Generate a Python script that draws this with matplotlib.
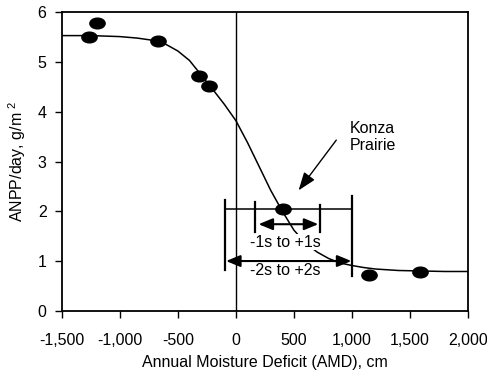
import numpy as np
import matplotlib
matplotlib.use("Agg")
import matplotlib.pyplot as plt
from matplotlib.path import Path
from matplotlib.transforms import Affine2D

plt.rcParams['font.family'] = ['Liberation Sans', 'DejaVu Sans']
plt.rcParams['mathtext.default'] = 'regular'

# Observed points
amd_points = [-1265, -1196, -670, -322, -228, 408, 1149, 1589]
anpp_points = [5.50, 5.79, 5.42, 4.71, 4.52, 2.05, 0.72, 0.78]

# Fitted curve
curve_x = [-1500, -1250, -1000, -850, -700, -600, -500, -400, -300, -200, -100, 0,
           100, 200, 300, 400, 500, 600, 700, 800, 900, 1000, 1100, 1200, 1400,
           1600, 1800, 2000]
curve_y = [5.53, 5.53, 5.51, 5.48, 5.43, 5.35, 5.22, 5.03, 4.74, 4.45, 4.15, 3.82,
           3.38, 2.90, 2.42, 2.00, 1.62, 1.36, 1.18, 1.05, 0.96, 0.91, 0.87, 0.84,
           0.81, 0.80, 0.79, 0.79]

# Konza Prairie spread
konza_y = 2.05
outer_range = [-90, 1000]
inner_range = [165, 725]

xticks = [-1500, -1000, -500, 0, 500, 1000, 1500, 2000]
xticklabels = ['-1,500', '-1,000', '-500', '0', '500', '1,000', '1,500', '2,000']
yticks = [0, 1, 2, 3, 4, 5, 6]

fig = plt.figure(figsize=(4.87, 3.70), dpi=100)
ax = fig.add_axes([0.127, 0.16, 0.834, 0.807])

ax.set_xlim(-1500, 2000)
ax.set_ylim(0, 6)

# zero line
ax.axvline(0, color='black', lw=1.0, zorder=1)

# curve
ax.plot(curve_x, curve_y, color='black', lw=1.1, zorder=2)

# ellipse marker
ell = Path.unit_circle().transformed(Affine2D().scale(1.0, 0.7))
ax.plot(amd_points, anpp_points, linestyle='none', marker=ell, markersize=11,
        color='black', zorder=4)

# horizontal line through Konza point
ax.plot(outer_range, [konza_y, konza_y], color='black', lw=1.1, zorder=3)
# outer bars
ax.plot([outer_range[0]] * 2, [0.82, 2.23], color='black', lw=1.6, zorder=3)
ax.plot([outer_range[1]] * 2, [0.69, 2.30], color='black', lw=1.6, zorder=3)
# inner bars
ax.plot([inner_range[0]] * 2, [1.59, 2.19], color='black', lw=1.6, zorder=3)
ax.plot([inner_range[1]] * 2, [1.59, 2.13], color='black', lw=1.6, zorder=3)

# double arrows
arrow_kw = dict(arrowstyle='<|-|>,head_length=0.85,head_width=0.35', color='black',
                lw=1.5, shrinkA=0, shrinkB=0)
ax.annotate('', xy=(inner_range[1] - 15, 1.74), xytext=(inner_range[0] + 30, 1.74),
            arrowprops=arrow_kw, zorder=5)
ax.annotate('', xy=(outer_range[1] - 5, 1.0), xytext=(outer_range[0] + 5, 1.0),
            arrowprops=arrow_kw, zorder=5)

ax.text(425, 1.38, '-1s to +1s', ha='center', va='center', fontsize=11.5,
        bbox=dict(facecolor='white', edgecolor='none', pad=0.5), zorder=6)
ax.text(425, 0.80, '-2s to +2s', ha='center', va='center', fontsize=11.5, zorder=6)

# Konza Prairie label & arrow
ax.text(1178, 3.50, 'Konza\nPrairie', ha='center', va='center', fontsize=11.5,
        linespacing=1.15)
ax.annotate('', xy=(540, 2.42), xytext=(865, 3.43),
            arrowprops=dict(arrowstyle='-|>,head_length=1.1,head_width=0.4',
                            color='black', lw=1.0, shrinkA=0, shrinkB=0))

ax.set_xticks(xticks)
ax.set_xticklabels(xticklabels)
ax.set_yticks(yticks)
ax.tick_params(axis='both', direction='out', length=5, width=1.0,
               labelsize=11.5, color='black')
ax.tick_params(axis='x', pad=11)
ax.tick_params(axis='y', pad=6)

for s in ax.spines.values():
    s.set_linewidth(1.3)

ax.set_xlabel('Annual Moisture Deficit (AMD), cm', fontsize=11.5, labelpad=5)
ax.set_ylabel('ANPP/day, g/m $^2$', fontsize=11.5, labelpad=7)

fig.savefig('out.png', dpi=100)
